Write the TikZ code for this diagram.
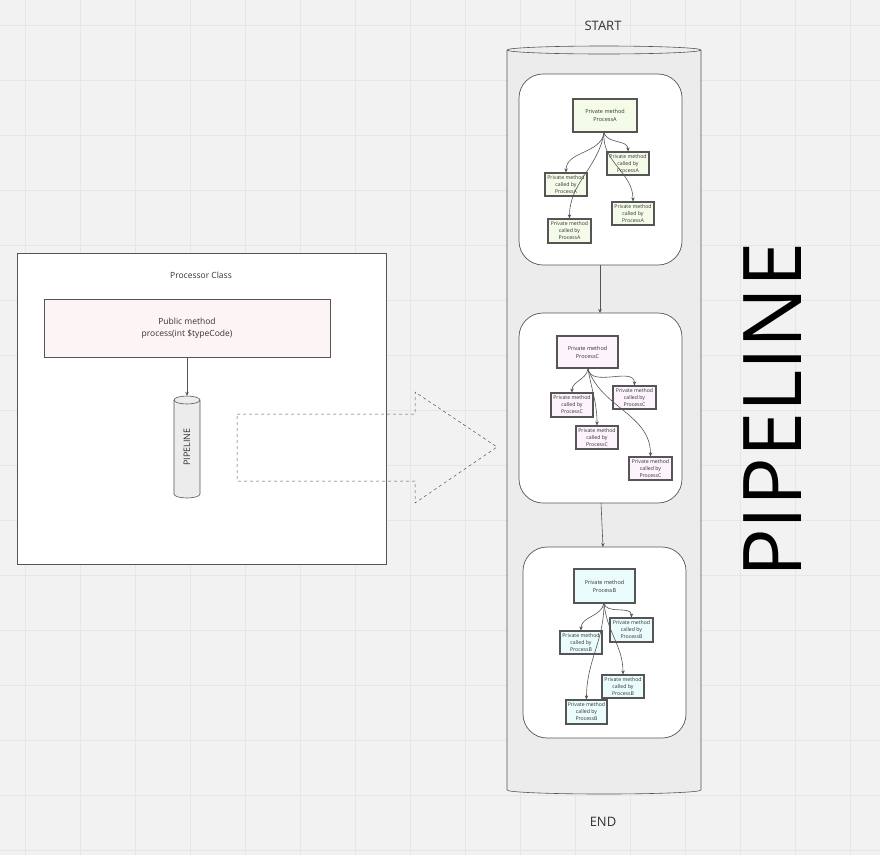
\documentclass[tikz,border=0pt]{standalone}
\usepackage{fontspec}
\setmainfont{Open Sans}
\usetikzlibrary{arrows.meta,shapes.geometric}
\definecolor{bg}{HTML}{F2F2F2}
\definecolor{gridc}{HTML}{E6E6E6}
\definecolor{ln}{HTML}{555555}
\definecolor{txt}{HTML}{333333}
\definecolor{fa}{HTML}{F4FCE9}
\definecolor{fc}{HTML}{FCF3FC}
\definecolor{fb}{HTML}{EBFCFC}
\definecolor{fp}{HTML}{FDF5F5}
\definecolor{cyl}{HTML}{ECECEC}
\tikzset{
 bx/.style={draw=ln,line width=1.2pt,inner sep=0pt,align=center,text=txt,font=\fontsize{5.2}{7}\selectfont},
 mainbx/.style={bx,font=\fontsize{5.5}{8}\selectfont},
 grp/.style={draw=ln,line width=0.7pt,fill=white,rounded corners=24pt},
 arr/.style={draw=ln,line width=0.6pt,-{Stealth[length=4pt,width=3.5pt]}},
}
\begin{document}
\begin{tikzpicture}[x=1pt,y=-1pt]
\useasboundingbox (0,0) rectangle (880,855);
\fill[bg] (0,0) rectangle (880,855);
\foreach \g in {25,80,135,190,245,300,355,410,465,520,575,630,685,740,795,850}{
 \draw[gridc,line width=0.5pt] (\g,0) -- (\g,855);
 \draw[gridc,line width=0.5pt] (0,\g) -- (880,\g);}
% left class
\node[draw=ln,line width=0.8pt,fill=white,minimum width=369,minimum height=311,inner sep=0] (cls) at (201.5,408.5) {};
\node[text=txt,font=\fontsize{8.5}{10}\selectfont] (clst) at (201,275) {Processor Class};
\node[draw=ln,line width=0.8pt,fill=fp,minimum width=286,minimum height=58,inner sep=0,align=center,text=txt,font=\fontsize{8.5}{12}\selectfont] (pub) at (187,328) {Public method\\process(int \$typeCode)};
% small cylinder
\draw[ln,line width=0.6pt,fill=cyl] (174,400) -- (174,494) arc[start angle=180,end angle=0,x radius=13,y radius=4] -- (200,400) arc[start angle=0,end angle=-180,x radius=13,y radius=4];
\draw[ln,line width=0.6pt] (174,400) arc[start angle=180,end angle=0,x radius=13,y radius=4];
\node[inner sep=0,minimum width=26,minimum height=102] (pc) at (187,447) {};
\node[rotate=90,text=txt,font=\fontsize{9}{10}\selectfont] (pct) at (187,447) {PIPELINE};
\draw[arr] (pub.south) -- (pc.north);
\coordinate (d1) at (237,414); \coordinate (d2) at (415,414); \coordinate (d3) at (415,392);
\coordinate (d4) at (497,447); \coordinate (d5) at (415,503); \coordinate (d6) at (415,481); \coordinate (d7) at (237,481);
\draw[ln,dashed,line width=0.5pt] (d1)--(d2)--(d3)--(d4)--(d5)--(d6)--(d7)--cycle;
% big pipeline
\draw[ln,line width=0.6pt,fill=cyl] (507,50) -- (507,790) arc[start angle=180,end angle=0,x radius=97,y radius=4] -- (701,50) arc[start angle=0,end angle=-180,x radius=97,y radius=4];
\draw[ln,line width=0.6pt] (507,50) arc[start angle=180,end angle=0,x radius=97,y radius=4];
\node[inner sep=0,minimum width=194,minimum height=748] (big) at (604,420) {};
\node[text=txt,font=\fontsize{13}{15}\selectfont] (start) at (603,26) {START};
\node[text=txt,font=\fontsize{13}{15}\selectfont] (end) at (603,822) {END};
\node[rotate=90,text=black,font=\fontsize{81}{85}\selectfont] (bigt) at (773,410) {PIPELINE};
% groups
\node[grp,minimum width=163,minimum height=191,inner sep=0] (ga) at (600.5,169.5) {};
\node[grp,minimum width=163,minimum height=190,inner sep=0] (gc) at (600.5,408) {};
\node[grp,minimum width=163,minimum height=191,inner sep=0] (gb) at (604.5,642.5) {};
\draw[arr] (600,265) -- (600,313);
\draw[arr] (601,503) -- (603,547);
% A
\node[mainbx,fill=fa,minimum width=64,minimum height=33] (ma) at (605,115.5) {Private method\\ProcessA};
\node[bx,fill=fa,minimum width=42,minimum height=23] (a1) at (628,163.5) {Private method\\called by\\ProcessA};
\node[bx,fill=fa,minimum width=42,minimum height=23] (a2) at (566,184.5) {Private method\\called by\\ProcessA};
\node[bx,fill=fa,minimum width=42,minimum height=23] (a3) at (633,213.5) {Private method\\called by\\ProcessA};
\node[bx,fill=fa,minimum width=43,minimum height=24] (a4) at (569.5,231) {Private method\\called by\\ProcessA};
\coordinate (sa) at (604,133);
\draw[arr] (sa) to[out=-70,in=90] (a1.north);
\draw[arr] (sa) to[out=-100,in=90] (a2.north);
\draw[arr] (sa) to[out=-95,in=90] (a3.north);
\draw[arr] (sa) to[out=-100,in=90] (a4.north);
% C
\node[mainbx,fill=fc,minimum width=61,minimum height=32] (mc) at (587.5,352) {Private method\\ProcessC};
\node[bx,fill=fc,minimum width=43,minimum height=23] (c1) at (634.5,397.5) {Private method\\called by\\ProcessC};
\node[bx,fill=fc,minimum width=42,minimum height=24] (c2) at (572,405) {Private method\\called by\\ProcessC};
\node[bx,fill=fc,minimum width=42,minimum height=23] (c3) at (597,437.5) {Private method\\called by\\ProcessC};
\node[bx,fill=fc,minimum width=43,minimum height=23] (c4) at (650.5,468.5) {Private method\\called by\\ProcessC};
\coordinate (sc) at (588,369);
\draw[arr] (sc) to[out=-80,in=90] (c1.north);
\draw[arr] (sc) to[out=-100,in=90] (c2.north);
\draw[arr] (sc) to[out=-80,in=90] (c3.north);
\draw[arr] (sc) to[out=-70,in=90] (c4.north);
% B
\node[mainbx,fill=fb,minimum width=61,minimum height=34] (mb) at (604.5,586) {Private method\\ProcessB};
\node[bx,fill=fb,minimum width=43,minimum height=24] (b1) at (631.5,630) {Private method\\called by\\ProcessB};
\node[bx,fill=fb,minimum width=42,minimum height=23] (b2) at (581,642.5) {Private method\\called by\\ProcessB};
\node[bx,fill=fb,minimum width=42,minimum height=23] (b3) at (623,686.5) {Private method\\called by\\ProcessB};
\node[bx,fill=fb,minimum width=41,minimum height=24] (b4) at (586.5,712) {Private method\\called by\\ProcessB};
\coordinate (sb) at (604,603);
\draw[arr] (sb) to[out=-80,in=90] (b1.north);
\draw[arr] (sb) to[out=-100,in=90] (b2.north);
\draw[arr] (sb) to[out=-85,in=90] (b3.north);
\draw[arr] (sb) to[out=-90,in=90] (b4.north);
\end{tikzpicture}
\end{document}
